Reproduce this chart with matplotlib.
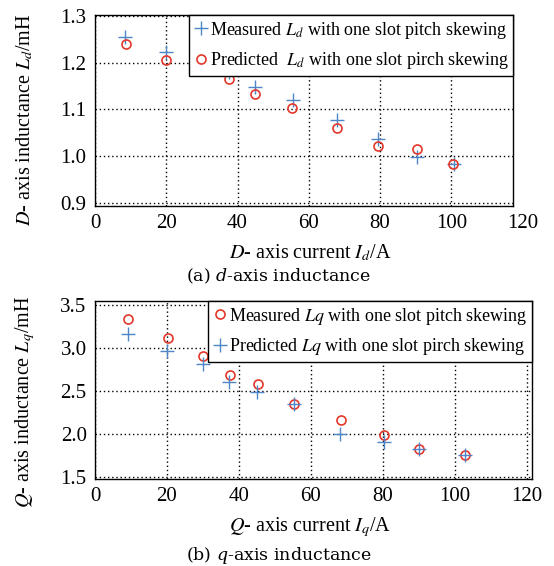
import matplotlib
matplotlib.use("Agg")
import matplotlib.pyplot as plt
import matplotlib.transforms as mtransforms

plt.rcParams['font.family'] = ['Liberation Serif', 'DejaVu Serif']
plt.rcParams['mathtext.fontset'] = 'stix'

# d-axis data
id_meas = [8.4, 19.8, 37.5, 44.9, 55.5, 68.0, 79.4, 90.4, 100.8]
ld_meas = [1.256, 1.223, 1.180, 1.148, 1.120, 1.077, 1.037, 0.999, 0.983]
id_pred = [8.7, 19.8, 37.5, 44.9, 55.2, 67.8, 79.4, 90.4, 100.6]
ld_pred = [1.241, 1.206, 1.166, 1.133, 1.104, 1.060, 1.022, 1.015, 0.983]

# q-axis data
iq_meas = [9.3, 20.2, 29.9, 37.4, 45.4, 55.2, 68.3, 80.4, 89.9, 102.9]
lq_meas = [3.333, 3.109, 2.899, 2.682, 2.574, 2.353, 2.159, 1.992, 1.822, 1.756]
iq_pred = [9.2, 20.0, 29.9, 37.2, 44.9, 55.2, 68.1, 80.4, 89.9, 102.9]
lq_pred = [3.155, 2.961, 2.810, 2.605, 2.481, 2.353, 2.004, 1.907, 1.822, 1.756]

xticks = [0, 20, 40, 60, 80, 100, 120]
d_yticks = [0.9, 1.0, 1.1, 1.2, 1.3]
q_yticks = [1.5, 2.0, 2.5, 3.0, 3.5]

blue = '#4f86c8'
red = '#e2372a'
fs = 15
lab_fs = 14.5
leg_fs = 13

fig = plt.figure(figsize=(5.54, 5.66), dpi=100)
ax1 = fig.add_axes([95/554, 1-205.7/566, 418.3/554, 190.7/566])
ax2 = fig.add_axes([95/554, 1-478.7/566, 437.3/554, 177.7/566])


def style(ax, xlim, ylim, yticks):
    ax.set_xlim(*xlim)
    ax.set_ylim(*ylim)
    ax.set_xticks([t for t in xticks if t <= xlim[1]])
    ax.set_yticks(yticks)
    ax.set_yticklabels(['%.1f' % t for t in yticks])
    ax.tick_params(length=0, labelsize=fs, pad=6)
    ax.grid(True, color='black', linestyle=(0, (1, 2)), linewidth=1.0)
    for s in ax.spines.values():
        s.set_linewidth(1.0)
    # the 120 label sits just past the right edge
    if xlim[1] < 120:
        tr = mtransforms.offset_copy(ax.get_xaxis_transform(), fig=fig, x=0, y=-6, units='points')
        ax.text(120, 0, '120', transform=tr, ha='center', va='top', fontsize=fs, clip_on=False)


style(ax1, (0.5, 117.4), (0.894, 1.302), d_yticks)
ax1.plot(id_meas, ld_meas, '+', color=blue, ms=10, mew=1.0, zorder=3,
         label='Measured $L_d$ with one slot pitch skewing')
ax1.plot(id_pred, ld_pred, 'o', mfc='none', mec=red, ms=6.5, mew=1.2, zorder=3,
         label='Predicted  $L_d$ with one slot pirch skewing')
leg1 = ax1.legend(loc='upper right', bbox_to_anchor=(1, 1), borderaxespad=0,
                  fontsize=leg_fs, handlelength=0.8, handletextpad=0.1, borderpad=0.25,
                  labelspacing=0.55, fancybox=False, edgecolor='black', framealpha=1)
leg1.get_frame().set_linewidth(1.0)
leg1.set_zorder(5)

style(ax2, (0.9, 121.5), (1.482, 3.541), q_yticks)
ax2.plot(iq_meas, lq_meas, 'o', mfc='none', mec=red, ms=6.5, mew=1.2, zorder=3,
         label='Measured $Lq$ with one slot pitch skewing')
ax2.plot(iq_pred, lq_pred, '+', color=blue, ms=10, mew=1.0, zorder=3,
         label='Predicted $Lq$ with one slot pirch skewing')
leg2 = ax2.legend(loc='upper right', bbox_to_anchor=(1, 1), borderaxespad=0,
                  fontsize=leg_fs, handlelength=0.8, handletextpad=0.1, borderpad=0.25,
                  labelspacing=0.55, fancybox=False, edgecolor='black', framealpha=1)
leg2.get_frame().set_linewidth(1.0)
leg2.set_zorder(5)

fig.text(25/554, 1-120/566, '$D$- axis inductance $L_d$/mH', rotation=90,
         ha='center', va='center', fontsize=lab_fs)
fig.text(25/554, 1-402/566, '$Q$- axis inductance $L_q$/mH', rotation=90,
         ha='center', va='center', fontsize=lab_fs)
fig.text(310/554, 1-253/566, '$D$- axis current $I_d$/A', ha='center', va='center', fontsize=lab_fs)
fig.text(310/554, 1-527/566, '$Q$- axis current $I_q$/A', ha='center', va='center', fontsize=lab_fs)
fig.text(279/554, 1-276/566, '(a) $d$-axis inductance', ha='center', va='center',
         fontsize=12.5, family='DejaVu Serif', math_fontfamily='dejavuserif')
fig.text(279/554, 1-555/566, '(b) $q$-axis inductance', ha='center', va='center',
         fontsize=12.5, family='DejaVu Serif', math_fontfamily='dejavuserif')

fig.savefig('out.png', dpi=100)
